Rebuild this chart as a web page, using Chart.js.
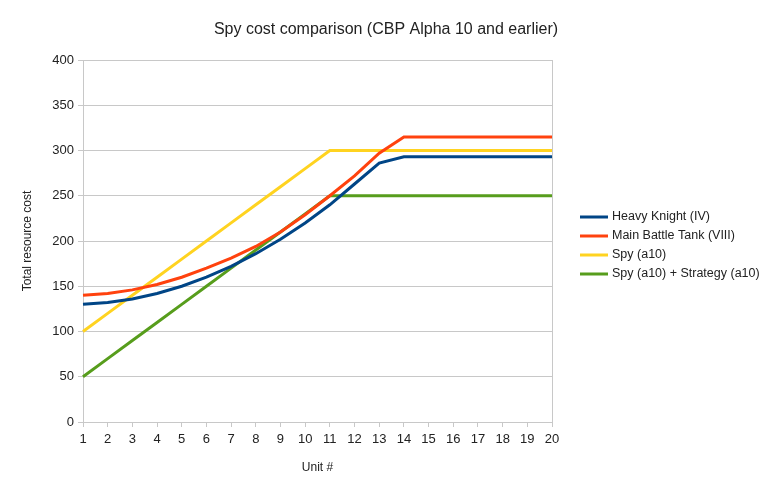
<!DOCTYPE html>
<html>
<head>
<meta charset="utf-8">
<script src="https://cdn.jsdelivr.net/npm/chart.js@4.4.1/dist/chart.umd.min.js"></script>
<style>
html,body{margin:0;padding:0;background:#fff;}
#wrap{width:772px;height:492px;position:relative;}
</style>
</head>
<body>
<div id="wrap"><canvas id="c"></canvas></div>
<script>
const units = [1,2,3,4,5,6,7,8,9,10,11,12,13,14,15,16,17,18,19,20];
const heavyKnight = [130,132,136,142,150,160,172,186,202,220,240,263,286,293,293,293,293,293,293,293];
const mainBattleTank = [140,142,146,152,160,170,181,194,210,229,250,272,297,315,315,315,315,315,315,315];
const spy = [100,120,140,160,180,200,220,240,260,280,300,300,300,300,300,300,300,300,300,300];
const spyStrategy = [50,70,90,110,130,150,170,190,210,230,250,250,250,250,250,250,250,250,250,250];
const yTicks = [0,50,100,150,200,250,300,350,400];

const font = "'Liberation Sans', Arial, sans-serif";
const grid = '#c8c8c8';
const textColor = '#222';

function ds(label, data, color){
  return {label, data, borderColor: color, backgroundColor: color, borderWidth: 3,
    pointRadius: 0, pointHoverRadius: 0, tension: 0, fill: false, yAxisID: 'y'};
}

// Legend drawn to the right of the plot area from the chart's own datasets
const sideLegend = {
  id: 'sideLegend',
  afterDraw(chart) {
    const ctx = chart.ctx;
    const items = chart.data.datasets;
    const rowH = 19;
    const cy = (chart.chartArea.top + chart.chartArea.bottom) / 2 + 4.5;
    const y0 = cy - (items.length - 1) * rowH / 2;
    const x0 = chart.chartArea.right + 28;
    ctx.save();
    ctx.font = '12.5px ' + font;
    ctx.textBaseline = 'middle';
    ctx.textAlign = 'left';
    items.forEach((d, i) => {
      const y = Math.round(y0 + i * rowH);
      ctx.fillStyle = d.borderColor;
      ctx.fillRect(x0, y - 1.5, 28, 3);
      ctx.fillStyle = textColor;
      ctx.fillText(d.label, x0 + 32, y);
    });
    ctx.restore();
  }
};

new Chart(document.getElementById('c'), {
  type: 'line',
  data: {
    labels: units.map(String),
    datasets: [
      ds('Heavy Knight (IV)', heavyKnight, '#004586'),
      ds('Main Battle Tank (VIII)', mainBattleTank, '#ff420e'),
      ds('Spy (a10)', spy, '#ffd320'),
      ds('Spy (a10) + Strategy (a10)', spyStrategy, '#579d1c')
    ]
  },
  plugins: [sideLegend],
  options: {
    responsive: true,
    maintainAspectRatio: false,
    animation: false,
    layout: {padding: {left: 0, right: 0, top: 6, bottom: 13}},
    plugins: {
      title: {display: true, text: 'Spy cost comparison (CBP Alpha 10 and earlier)',
        font: {family: font, size: 16, weight: 'normal'}, color: textColor, padding: {top: 14, bottom: 20.8}},
      legend: {display: false},
      tooltip: {enabled: false}
    },
    scales: {
      x: {
        type: 'category',
        offset: false,
        grid: {color: ctx => ctx.index === units.length - 1 ? grid : 'rgba(0,0,0,0)', tickColor: grid, tickLength: 5, drawTicks: true},
        border: {color: grid},
        ticks: {font: {family: font, size: 13}, color: textColor, maxRotation: 0, autoSkip: false, padding: 5},
        title: {display: true, text: 'Unit #', font: {family: font, size: 12}, color: textColor, padding: {top: 8}}
      },
      y: {
        min: 0, max: 400,
        afterBuildTicks: s => { s.ticks = yTicks.map(v => ({value: v})); },
        afterFit: s => { s.width = 83; },
        grid: {color: grid, tickColor: grid, tickLength: 5},
        border: {color: grid},
        ticks: {font: {family: font, size: 13}, color: textColor, padding: 4},
        title: {display: true, text: 'Total resource cost', font: {family: font, size: 12}, color: textColor, padding: {top: 20, bottom: 8}}
      },
      legendSpace: {
        position: 'right',
        min: 0, max: 400,
        afterFit: s => { s.width = 220; },
        grid: {display: false, drawOnChartArea: false},
        border: {display: false},
        ticks: {display: false}
      }
    }
  }
});
</script>
</body>
</html>
